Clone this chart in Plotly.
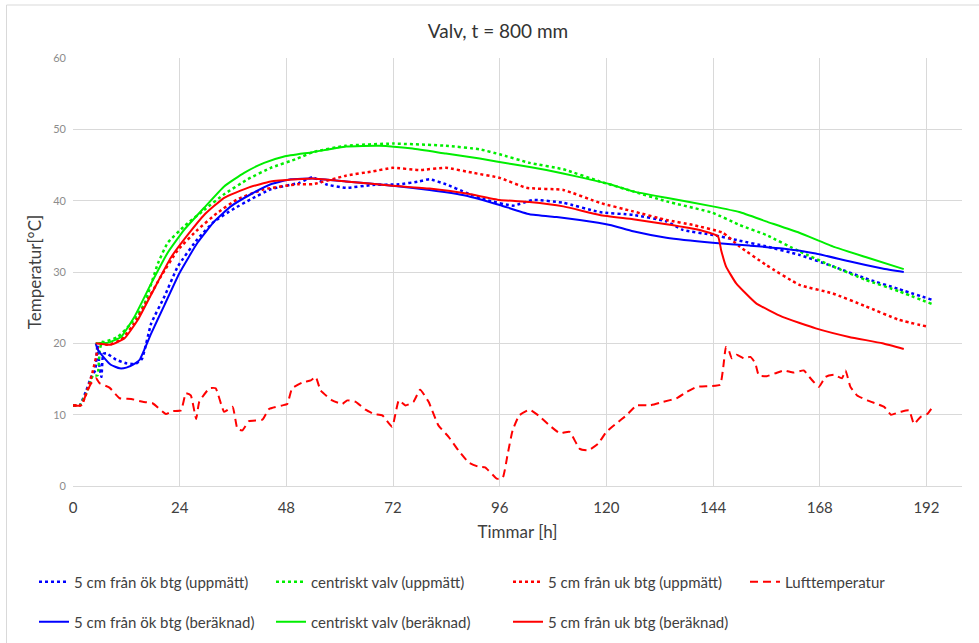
import plotly.graph_objects as go

# Temperatures in the vault, t = 800 mm. Hours since casting and temperature in °C.
ok_meas_h = [0, 1.5, 3, 4.1, 5, 5.5, 6, 6.4, 6.8, 7.5, 9.7, 12, 14, 15.5, 17.6, 20.6, 23.6, 28, 31.8, 36, 40,
             44.5, 50.9, 53.9, 56.9, 61.4, 67.4, 73.4, 77.9, 80.2, 83.9, 88.5, 93, 99, 103.5, 110.3, 118.5, 126,
             133.5, 137.2, 143.9, 149.9, 155.9, 163.4, 170.9, 178.3, 185.8, 193.3]
ok_meas_t = [11.3, 11.3, 13.4, 15.3, 16.2, 19.8, 16.5, 15.3, 18.5, 18.6, 17.7, 17.2, 17.1, 17.8, 22.8, 26.6, 30.8,
             34.6, 37.1, 38.8, 40.2, 41.6, 42.5, 43.3, 42.3, 41.8, 42.2, 42.3, 42.7, 43.0, 42.3, 41.1, 40.1, 39.3,
             40.1, 39.7, 38.4, 38.0, 37.1, 35.9, 35.2, 34.4, 33.6, 32.4, 30.8, 29.1, 27.6, 26.1]

cen_meas_h = [0, 1.5, 3, 4.5, 5.5, 6, 6.5, 7.1, 10.1, 13.1, 16.1, 19.1, 21.3, 25, 29.5, 34, 39.3, 44.5, 50.5, 53.9,
              61.4, 71.9, 83.9, 91.5, 96, 102.7, 110.3, 118.5, 126, 133.5, 143.9, 149.9, 155.9, 163.4, 170.9,
              178.3, 185.8, 193.3]
cen_meas_t = [11.3, 11.3, 13.0, 15.5, 15.5, 19.0, 20.2, 20.2, 20.9, 22.8, 25.6, 31.2, 34.1, 36.4, 38.7, 40.9, 43.0,
              44.6, 45.9, 46.8, 47.7, 48.0, 47.7, 47.2, 46.5, 45.3, 44.4, 42.7, 41.3, 39.9, 38.3, 36.6, 35.2, 32.9,
              30.8, 28.9, 27.3, 25.5]

uk_meas_h = [0, 1.9, 3, 3.7, 4.5, 5.2, 5.6, 6, 7.9, 10.8, 13.8, 16.8, 19.8, 23.6, 28, 32.5, 37, 43, 50.5, 53.9,
             61.4, 67.4, 71.9, 77.9, 83.9, 90, 96, 102, 110.3, 118.5, 126, 133.5, 139.4, 146.2, 149.9, 155.9,
             163.4, 170.9, 178.3, 185.8, 192.5]
uk_meas_t = [11.3, 11.4, 13.0, 14.4, 16.2, 18.1, 19.5, 20.0, 19.8, 20.5, 22.8, 26.1, 29.4, 33.1, 35.9, 38.3, 40.2,
             41.6, 42.3, 42.3, 43.5, 44.1, 44.6, 44.3, 44.6, 43.9, 43.2, 41.8, 41.5, 39.7, 38.5, 37.3, 36.6, 35.5,
             33.6, 31.0, 28.2, 27.0, 25.2, 23.3, 22.3]

air_h = [0, 1.9, 3, 4.1, 5.2, 6, 8.2, 10.5, 13.1, 15.7, 17.9, 20.9, 22.4, 24.3, 25.4, 26.5, 27.7, 28.4, 30.7, 32.1,
         34, 35.9, 37, 38.1, 39.6, 42.6, 44.1, 47.1, 48.2, 49.3, 51.6, 53.5, 54.6, 55.7, 58.3, 60.6, 61.7, 63.6,
         65.8, 67.7, 69.6, 71.8, 73.3, 74.8, 76.6, 78.1, 80, 82.2, 84.5, 86.7, 89, 91.2, 92.7, 95, 95.5, 96.7,
         97.8, 98.9, 100.4, 102.7, 104.9, 107.2, 109.5, 111.7, 114, 115.9, 118.1, 120, 122.3, 124.5, 126.8,
         129.8, 132.8, 135.8, 138.1, 140.3, 143.3, 145.6, 146.3, 146.9, 147.5, 148.2, 149.3, 150.9, 152.4,
         153.5, 154.3, 156.1, 158, 159.9, 162.1, 164.4, 165.9, 167.8, 169.3, 171.2, 173, 173.8, 174.9, 176.4,
         178.7, 180.9, 182.5, 184, 186.2, 188.1, 189.2, 190.7, 192.2, 193.4]
air_t = [11.3, 11.3, 13.0, 14.4, 15.1, 14.4, 13.8, 12.3, 12.2, 11.8, 11.6, 10.1, 10.5, 10.6, 13.0, 12.7, 9.4, 11.8,
         13.7, 13.7, 10.4, 11.1, 8.0, 7.8, 9.1, 9.3, 10.8, 11.3, 11.5, 13.7, 14.5, 14.8, 15.3, 13.4, 12.0, 11.5,
         12.0, 11.8, 10.7, 10.1, 9.9, 8.3, 12.0, 11.3, 11.8, 13.5, 11.8, 8.5, 6.9, 5.0, 3.3, 2.7, 2.6, 1.2, 1.0,
         1.2, 4.5, 7.8, 9.9, 10.7, 9.8, 8.5, 7.4, 7.6, 5.2, 5.0, 5.9, 7.6, 8.8, 9.9, 11.3, 11.3, 11.8, 12.3, 13.2,
         13.9, 14.0, 14.2, 16.7, 19.5, 19.1, 17.9, 18.4, 17.9, 18.1, 17.2, 15.5, 15.4, 15.8, 16.2, 15.9, 16.2,
         15.1, 13.9, 15.3, 15.6, 15.1, 16.2, 13.9, 12.7, 12.0, 11.5, 11.1, 10.0, 10.4, 10.6, 8.7, 9.7, 10.1, 11.1]

ok_calc_h = [5.1, 5.6, 7.1, 8.5, 10.5, 12, 14, 15, 17.6, 20.6, 23.9, 28, 31.8, 35.5, 40, 44.5, 49, 53.9, 61.4,
             71.9, 80.2, 88.5, 96, 102.7, 108.8, 114, 120.8, 126, 133.5, 143.9, 152.2, 159.6, 167.1, 174.6,
             182.1, 186.9]
ok_calc_t = [20.0, 19.1, 17.9, 17.0, 16.5, 16.6, 17.2, 17.7, 21.4, 25.4, 29.8, 34.1, 37.1, 39.2, 40.9, 42.3, 43.0,
             43.1, 42.7, 42.1, 41.5, 40.7, 39.4, 38.1, 37.7, 37.3, 36.6, 35.7, 34.8, 34.1, 33.7, 33.3, 32.6, 31.5,
             30.5, 30.0]

cen_calc_h = [5.1, 7.9, 10.8, 13.8, 17.6, 21.3, 25, 29.5, 34, 38.5, 43, 47.5, 53.9, 61.4, 68.9, 76.4, 83.9, 91.5,
              99, 106.5, 114, 120.8, 126, 133.5, 143.9, 149.9, 155.9, 163.4, 170.9, 178.3, 186.9]
cen_calc_t = [20.0, 20.1, 20.9, 23.7, 28.4, 32.7, 35.9, 39.0, 42.0, 43.9, 45.3, 46.2, 46.8, 47.6, 47.7, 47.3, 46.6,
              45.9, 45.1, 44.3, 43.3, 42.3, 41.3, 40.4, 39.2, 38.4, 37.1, 35.5, 33.6, 32.1, 30.4]

uk_calc_h = [5.1, 8.6, 11.6, 14.6, 18.3, 22, 25.8, 29.5, 34, 39.3, 44.5, 50.5, 53.9, 61.4, 71.9, 80.2, 88.5, 96,
             102.7, 110.3, 118.5, 126, 133.5, 141, 145.1, 145.8, 146.9, 149.2, 153.7, 159.6, 167.1, 174.6,
             182.1, 186.9]
uk_calc_t = [20.0, 19.8, 20.7, 23.3, 27.7, 32.0, 35.2, 38.0, 40.4, 41.8, 42.7, 43.0, 43.1, 42.7, 42.1, 41.7, 41.0,
             40.1, 39.8, 39.2, 38.0, 37.4, 36.7, 35.9, 35.0, 33.1, 30.8, 28.4, 25.6, 23.7, 22.1, 20.9, 20.0, 19.2]

x_ticks = [0, 24, 48, 72, 96, 120, 144, 168, 192]

BLUE, GREEN, RED = "#0000ff", "#00ee00", "#ff0000"
FONT = "Lato, 'Open Sans', sans-serif"
DOT = "3px,3px"
DASH = "8px,5px"

series = [
    ("5 cm från ök btg (uppmätt)", ok_meas_h, ok_meas_t, BLUE, DOT, 2.5, "legend"),
    ("centriskt valv (uppmätt)", cen_meas_h, cen_meas_t, GREEN, DOT, 2.5, "legend"),
    ("5 cm från uk btg (uppmätt)", uk_meas_h, uk_meas_t, RED, DOT, 2.5, "legend"),
    ("Lufttemperatur", air_h, air_t, RED, DASH, 2, "legend"),
    ("5 cm från ök btg (beräknad)", ok_calc_h, ok_calc_t, BLUE, "solid", 2, "legend2"),
    ("centriskt valv (beräknad)", cen_calc_h, cen_calc_t, GREEN, "solid", 2, "legend2"),
    ("5 cm från uk btg (beräknad)", uk_calc_h, uk_calc_t, RED, "solid", 2, "legend2"),
]

fig = go.Figure()
for name, xs, ys, color, dash, width, leg in series:
    fig.add_trace(go.Scatter(
        x=xs, y=ys, name=name, mode="lines", legend=leg,
        line=dict(color=color, dash=dash, width=width, shape="spline", smoothing=0.4),
    ))

W, H = 979, 643
ML, MR, MT, MB = 73, 17, 58, 157
PW, PH = W - ML - MR, H - MT - MB


def px_x(p):
    return (p - ML) / PW


def px_y(q):
    return (H - MB - q) / PH


legend_common = dict(
    orientation="h", xanchor="left", yanchor="middle",
    entrywidth=192, entrywidthmode="pixels",
    font=dict(family=FONT, size=15, color="#404040"),
    bgcolor="rgba(0,0,0,0)", borderwidth=0, itemclick=False,
)

fig.update_layout(
    width=W, height=H,
    margin=dict(l=ML, r=MR, t=MT, b=MB, autoexpand=False),
    paper_bgcolor="white", plot_bgcolor="white",
    title=dict(text="Valv, t = 800 mm", x=498 / W, xanchor="center",
               y=1 - 31 / H, yanchor="middle",
               font=dict(family=FONT, size=19, color="#333333")),
    xaxis=dict(
        range=[0, 200], tickvals=x_ticks, ticktext=[str(v) for v in x_ticks],
        showgrid=True, gridcolor="#d9d9d9", gridwidth=1,
        showline=True, linecolor="#d9d9d9", linewidth=1,
        zeroline=False, ticks="", ticklabelstandoff=8,
        tickfont=dict(family=FONT, size=15, color="#404040"),
        title=dict(text="Timmar [h]", font=dict(family=FONT, size=17, color="#404040"), standoff=11),
    ),
    yaxis=dict(
        range=[0, 60], dtick=10,
        showgrid=True, gridcolor="#d9d9d9", gridwidth=1,
        zeroline=False, ticks="", ticklabelstandoff=6,
        tickfont=dict(family=FONT, size=11, color="#8c8c8c"),
        title=dict(text="Temperatur[°C]", font=dict(family=FONT, size=17, color="#404040"), standoff=7),
    ),
    legend=dict(x=px_x(34), y=px_y(582), **legend_common),
    legend2=dict(x=px_x(34), y=px_y(622), **legend_common),
    shapes=[dict(type="rect", xref="paper", yref="paper",
                 x0=px_x(6.5), x1=px_x(995), y0=px_y(660), y1=px_y(5),
                 line=dict(color="#d9d9d9", width=1), fillcolor="rgba(0,0,0,0)", layer="below")],
    showlegend=True,
)

fig.write_html("out.html")
